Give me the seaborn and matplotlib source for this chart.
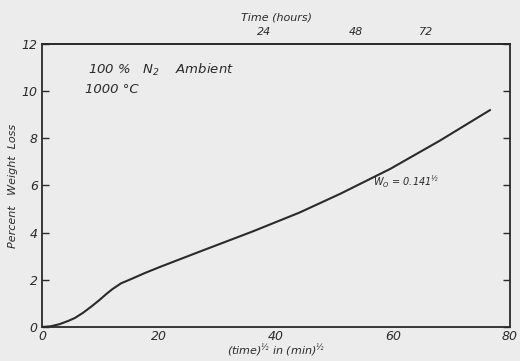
import numpy as np
import pandas as pd
import matplotlib
matplotlib.use("Agg")
import matplotlib.pyplot as plt
import seaborn as sns

# data
sqrt_time = [0, 1.5, 3.0, 4.5, 5.6, 7.0, 8.5, 9.7, 11.0, 12.0, 13.5, 15.4, 17.5, 20.2,
             27.0, 36.0, 44.0, 51.0, 59.5, 68.0, 76.6]
weight_loss = [0, 0.03, 0.12, 0.26, 0.38, 0.6, 0.88, 1.12, 1.4, 1.6, 1.85, 2.05, 2.28, 2.55,
               3.2, 4.05, 4.85, 5.65, 6.7, 7.9, 9.2]
x_ticks = [0, 20, 40, 60, 80]
y_ticks = [0, 2, 4, 6, 8, 10, 12]
hour_ticks = [24, 48, 72]

df = pd.DataFrame({"x": sqrt_time, "y": weight_loss})

sns.set_theme(style="white")
plt.rcParams["font.family"] = ["DejaVu Sans"]
plt.rcParams["font.style"] = "italic"

bg = "#ececec"
ink = "#2a2a2a"
fig = plt.figure(figsize=(5.2, 3.61), dpi=100, facecolor=bg)
ax = fig.add_axes([0.0808, 0.0942, 0.9, 0.784])
ax.set_facecolor(bg)

sns.lineplot(data=df, x="x", y="y", ax=ax, color=ink, linewidth=1.5)

ax.set_xlim(0, 80)
ax.set_ylim(0, 12)
ax.set_xticks(x_ticks)
ax.set_yticks(y_ticks)
ax.set_xticklabels([str(v) for v in x_ticks], fontsize=9, style="italic", color=ink)
ax.set_yticklabels([str(v) for v in y_ticks], fontsize=9, style="italic", color=ink)
ax.tick_params(axis="y", direction="in", length=5, width=1, colors=ink, right=True, left=True,
               labelcolor=ink, pad=3)
ax.tick_params(axis="x", direction="in", length=0, pad=2, labelcolor=ink)
for s in ax.spines.values():
    s.set_color(ink)
    s.set_linewidth(1.3)

ax.set_xlabel(r"(time)$^{½}$ in (min)$^{½}$", fontsize=8, style="italic", color=ink, labelpad=0)
ax.set_ylabel("Percent   Weight  Loss", fontsize=8, style="italic", color=ink, labelpad=3)

sec = ax.secondary_xaxis("top", functions=(lambda x: np.asarray(x) ** 2 / 60.0,
                                           lambda h: np.sqrt(np.clip(np.asarray(h), 0, None) * 60.0)))
sec.set_xticks(hour_ticks)
sec.set_xticklabels([str(v) for v in hour_ticks], fontsize=8, style="italic", color=ink)
sec.tick_params(axis="x", length=0, pad=5)
sec.set_xlabel("Time (hours)", fontsize=8, style="italic", color=ink, labelpad=5)

ax.text(7.8, 10.75, r"100 %   N$_2$    Ambient", fontsize=9.5, style="italic", color=ink)
ax.text(7.4, 9.92, "1000 °C", fontsize=9.5, style="italic", color=ink)
ax.text(56.5, 5.95, r"W$_O$ = 0.141$^{½}$", fontsize=7, style="italic", color=ink)

fig.savefig("out.png", dpi=100, facecolor=bg)
